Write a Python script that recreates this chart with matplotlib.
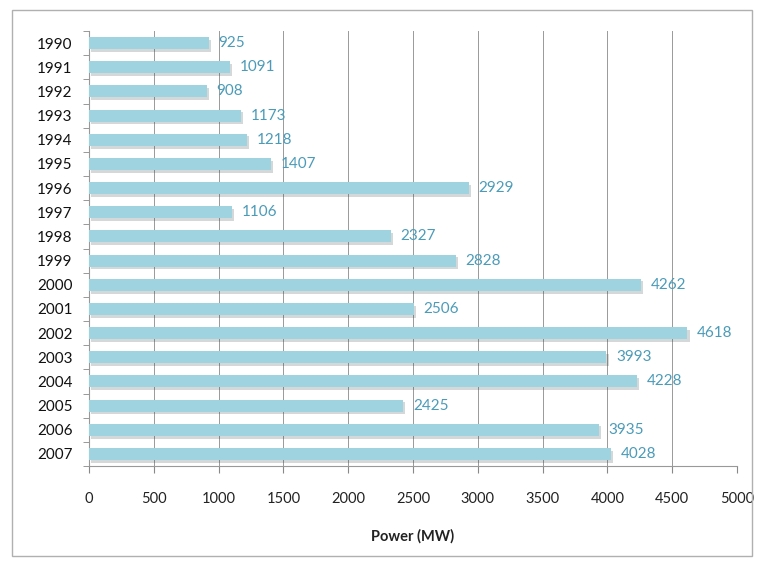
import matplotlib
matplotlib.use("Agg")
import matplotlib.pyplot as plt
import matplotlib.patheffects as pe
from matplotlib.patches import Rectangle

years = [str(y) for y in range(1990, 2008)]
power = [925, 1091, 908, 1173, 1218, 1407, 2929, 1106, 2327, 2828,
         4262, 2506, 4618, 3993, 4228, 2425, 3935, 4028]

plt.rcParams['font.family'] = ['Lato', 'DejaVu Sans']

fig = plt.figure(figsize=(7.62, 5.61), dpi=100)
fig.patches.append(Rectangle((12 / 762, 1 - 556 / 561), 740 / 762, 546 / 561,
                             transform=fig.transFigure, fill=False,
                             edgecolor='#b0b0b0', linewidth=1))
ax = fig.add_axes([89 / 762, 1 - 466 / 561, 648 / 762, 435 / 561])

pos = list(range(len(years)))
ax.barh(pos, power, height=0.5, color='#9fd3e0', zorder=3,
        path_effects=[pe.SimplePatchShadow(offset=(1.5, -2), alpha=0.2),
                      pe.Normal()])
for p, v in zip(pos, power):
    ax.text(v + 75, p, str(v), va='center', ha='left', fontsize=11,
            color='#4b9bb8', zorder=4)

ax.set_ylim(len(years) - 0.5, -0.5)
ax.set_xlim(0, 5000)
ax.set_xticks(range(0, 5001, 500))
ax.set_yticks(pos)
ax.set_yticklabels(years, fontsize=11, color='#111111')
ax.set_yticks([p + 0.5 for p in range(-1, len(years))], minor=True)
ax.tick_params(axis='y', which='major', length=0, pad=12)
ax.tick_params(axis='y', which='minor', length=4, color='#888888')
ax.tick_params(axis='x', length=5, color='#888888', pad=14, labelsize=10.5,
               labelcolor='#222222')
ax.grid(axis='x', color='#999999', linewidth=0.7, zorder=0)
for s in ['top', 'right']:
    ax.spines[s].set_visible(False)
ax.spines['left'].set_color('#999999')
ax.spines['bottom'].set_color('#999999')
ax.set_xlabel('Power (MW)', fontsize=10.5, fontweight='bold', labelpad=16,
              color='#222222')

fig.savefig('out.png', dpi=100)
